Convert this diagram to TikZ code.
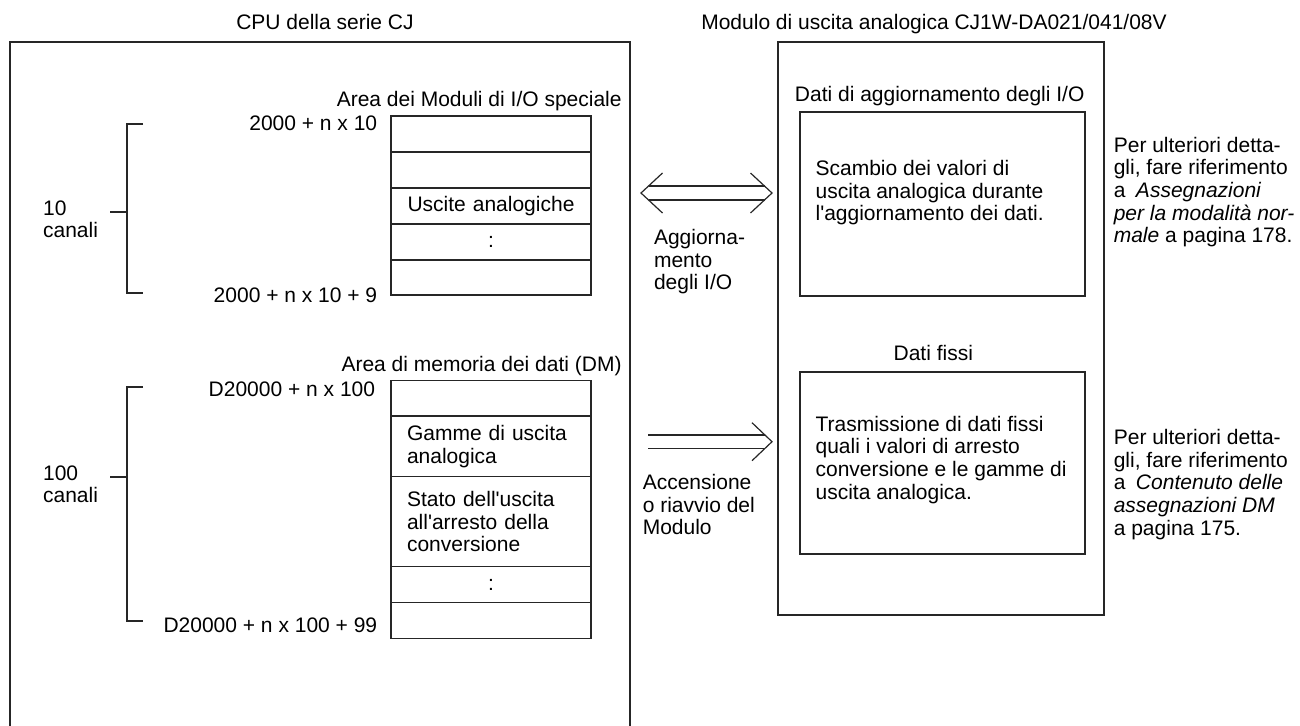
\documentclass[tikz,border=0pt]{standalone}
\usepackage{fontspec}
\setmainfont{Liberation Sans}
\usetikzlibrary{positioning,calc}

\newcommand\apos{\textquotesingle}

\tikzset{
  lbl/.style={inner sep=0pt, font=\fontsize{10.5}{11.3}\selectfont},
  para/.style={lbl, align=left, anchor=north west},
  frame/.style={draw=black!85, line width=0.6pt, inner sep=0pt, outer sep=0pt},
  cell/.style={frame, minimum width=100pt, minimum height=#1, text width=84pt,
    inner xsep=8pt, font=\fontsize{10.5}{11.3}\selectfont},
  flow/.style={draw=black!85, line width=0.6pt},
}

\begin{document}
\begin{tikzpicture}[x=0.5pt, y=-0.5pt]
    \useasboundingbox (0,0) rectangle (1300,725);

    % CPU della serie CJ
    \node[lbl, anchor=base] (cpuTitle) at (325,29) {CPU della serie CJ};
    \node[frame, anchor=north west, minimum width=310pt, minimum height=350pt] (cpu) at (10,42) {};

    % Area I/O speciale
    \node[lbl, anchor=base east] (ioHead) at (622,106) {Area dei Moduli di I/O speciale};
    \node[cell=18pt, anchor=north west] (io1) at (391,116) {};
    \node[cell=18pt, below=0pt of io1] (io2) {};
    \node[cell=18pt, below=0pt of io2, align=center] (io3) {Uscite analogiche};
    \node[cell=18pt, below=0pt of io3, align=center] (io4) {:};
    \node[cell=17.5pt, below=0pt of io4] (io5) {};
    \node[lbl, anchor=base east] (ioFirst) at (377.6,130) {2000 + n x 10};
    \node[lbl, anchor=base east] (ioLast) at (377.6,302) {2000 + n x 10 + 9};
    \draw[flow] (143,124) -| (127,293) -- (143,293);
    \draw[flow] (110,212) -- (127,212);
    \node[para] (ioCount) at (42.7,200) {10\\canali};

    % Area DM
    \node[lbl, anchor=base east] (dmHead) at (622,371.7) {Area di memoria dei dati (DM)};
    \node[cell=17.65pt, anchor=north west] (dm1) at (391,380.7) {};
    \node[cell=30.35pt, below=0pt of dm1, align=left] (dm2) {Gamme di uscita\\analogica};
    \node[cell=45pt, below=0pt of dm2, align=left] (dm3) {Stato dell\apos uscita\\all\apos arresto della\\conversione};
    \node[cell=17.8pt, below=0pt of dm3, align=center] (dm4) {:};
    \node[cell=18pt, below=0pt of dm4] (dm5) {};
    \node[lbl, anchor=base east] (dmFirst) at (375.5,396.7) {D20000 + n x 100};
    \node[lbl, anchor=base east] (dmLast) at (377.6,632.3) {D20000 + n x 100 + 99};
    \draw[flow] (143,387) -| (127,621) -- (143,621);
    \draw[flow] (110,477) -- (127,477);
    \node[para] (dmCount) at (42.7,465) {100\\canali};

    % Modulo di uscita
    \node[lbl, anchor=base] (modTitle) at (934,29) {Modulo di uscita analogica CJ1W-DA021/041/08V};
    \node[frame, anchor=north west, minimum width=163pt, minimum height=286.5pt] (mod) at (778,42) {};
    \node[lbl, anchor=base] (updHead) at (939.7,101.7) {Dati di aggiornamento degli I/O};
    \node[frame, anchor=north west, minimum width=142.5pt, minimum height=92pt] (updBox) at (800,112) {};
    \node[para] (updText) at (815.2,160) {Scambio dei valori di\\uscita analogica durante\\l\apos aggiornamento dei dati.};
    \node[lbl, anchor=base] (fixHead) at (933.3,360.7) {Dati fissi};
    \node[frame, anchor=north west, minimum width=142.5pt, minimum height=91pt] (fixBox) at (800,372) {};
    \node[para] (fixText) at (815.2,415.7) {Trasmissione di dati fissi\\quali i valori di arresto\\conversione e le gamme di\\uscita analogica.};

    % Aggiornamento degli I/O
    \coordinate (updL) at (641,193);
    \coordinate (updR) at (772,193);
    \draw[flow] ($(updL)+(21.5,-20)$) -- (updL) -- ($(updL)+(21.5,20)$);
    \draw[flow] ($(updR)+(-21.5,-20)$) -- (updR) -- ($(updR)+(-21.5,20)$);
    \draw[flow] ($(updL)+(7.5,-7)$) -- ($(updR)+(-7.5,-7)$);
    \draw[flow] ($(updL)+(7.5,7)$) -- ($(updR)+(-7.5,7)$);
    \node[para] (updLbl) at (653.6,229) {Aggiorna-\\mento\\degli I/O};

    % Accensione
    \coordinate (pwrL) at (648,441.7);
    \coordinate (pwrR) at (772,441.7);
    \draw[flow] ($(pwrR)+(-20,-19)$) -- (pwrR) -- ($(pwrR)+(-20,19)$);
    \draw[flow] ($(pwrL)+(0,-6.7)$) -- ($(pwrR)+(-7,-6.7)$);
    \draw[flow] ($(pwrL)+(0,6.7)$) -- ($(pwrR)+(-7,6.7)$);
    \node[para] (pwrLbl) at (642.4,474) {Accensione\\o riavvio del\\Modulo};

    % Note
    \node[para] (updNote) at (1113.4,136.7) {Per ulteriori detta-\\gli, fare riferimento\\a\enspace\textit{Assegnazioni}\\\textit{per la modalità nor-}\\\textit{male} a pagina 178.};
    \node[para] (fixNote) at (1113.4,429) {Per ulteriori detta-\\gli, fare riferimento\\a\enspace\textit{Contenuto delle}\\\textit{assegnazioni DM}\\a pagina 175.};
\end{tikzpicture}
\end{document}
